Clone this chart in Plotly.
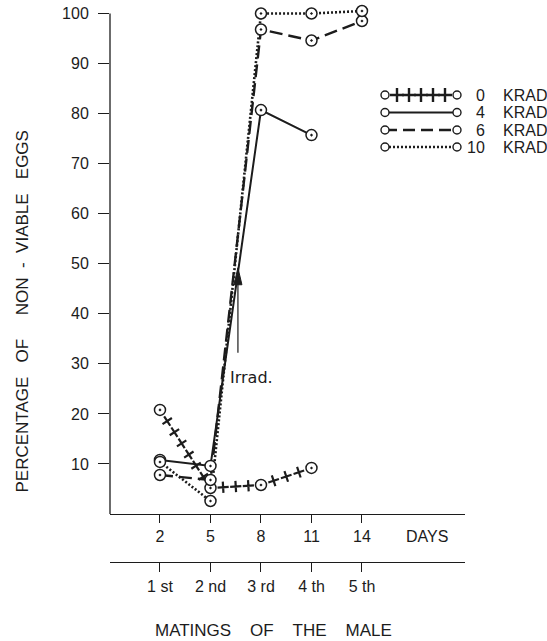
import math
import plotly.graph_objects as go

# ---- data -------------------------------------------------------------
days = [2, 5, 8, 11, 14]
mating_labels = ["1\u00a0st", "2\u00a0nd", "3\u00a0rd", "4\u00a0th", "5\u00a0th"]
y_ticks = [10, 20, 30, 40, 50, 60, 70, 80, 90, 100]

# percentage of non-viable eggs for each dose (None = no mating recorded)
krad0 = [20.8, 5.2, 5.8, 9.2, None]
krad4 = [10.8, 9.6, 80.7, 75.7, None]
krad6 = [7.8, 6.8, 96.8, 94.6, 98.5]
krad10 = [10.4, 2.6, 100.0, 100.0, 100.5]

dose_labels = ["0", "4", "6", "10"]

# irradiation marker (day, arrow tail %, arrow tip %)
irrad_day = 6.63
irrad_from = 32.2
irrad_to = 49.2

# ---- geometry -----------------------------------------------------------
W, H = 547, 641
BOX_L, BOX_R = 110, 465
PX_0, PX_100 = 514, 13.5          # pixel rows of 0 % and 100 %
X_RANGE = [-0.97, 20.12]
Y_TOP = 102                       # headroom so marks at 100 % are not clipped
Y_RANGE = [0, Y_TOP]
SY = (PX_0 - PX_100) / 100        # pixels per percent
SX = (BOX_R - BOX_L) / (X_RANGE[1] - X_RANGE[0])
box_top = PX_0 - Y_TOP * SY
x_dom = [BOX_L / W, BOX_R / W]
y_dom = [(H - PX_0) / H, min(1.0, (H - box_top) / H)]
INK = "#1c1c1c"
FONT = "Liberation Sans"


def plus_pattern(xs, ys, spacing=12.5):
    """Positions and angles of the '+' glyphs that make up the 0 krad line."""
    pts = [(x, y) for x, y in zip(xs, ys) if y is not None]
    gx, gy, ga = [], [], []
    for (x0, y0), (x1, y1) in zip(pts[:-1], pts[1:]):
        dx = (x1 - x0) * SX
        dy = -(y1 - y0) * SY
        n = max(1, round(math.hypot(dx, dy) / spacing) - 1)
        ang = math.degrees(math.atan2(dy, dx))
        for k in range(1, n + 1):
            t = k / (n + 1)
            gx.append(x0 + t * (x1 - x0))
            gy.append(y0 + t * (y1 - y0))
            ga.append(ang)
    return gx, gy, ga


fig = go.Figure()

# ---- series lines (drawn first so the circles sit on top) ---------------
fig.add_trace(go.Scatter(x=days, y=krad4, mode="lines",
                         line=dict(color=INK, width=2), hoverinfo="skip"))
fig.add_trace(go.Scatter(x=days, y=krad6, mode="lines",
                         line=dict(color=INK, width=2.4, dash="13px,6px"),
                         hoverinfo="skip"))
fig.add_trace(go.Scatter(x=days, y=krad10, mode="lines",
                         line=dict(color=INK, width=2.6, dash="2px,2px"),
                         hoverinfo="skip"))
px_, py_, pa_ = plus_pattern(days, krad0)
fig.add_trace(go.Scatter(x=px_, y=py_, mode="markers", hoverinfo="skip",
                         marker=dict(symbol="cross-thin", size=8, angle=pa_,
                                     line=dict(color=INK, width=2.2))))

# ---- data circles -------------------------------------------------------
for series in (krad0, krad4, krad6, krad10):
    fig.add_trace(go.Scatter(
        x=days, y=series, mode="markers", hoverinfo="skip", cliponaxis=False,
        marker=dict(symbol="circle-dot", size=11, color="white",
                    line=dict(color=INK, width=1.5))))

# dummy trace so the mating axis is rendered
fig.add_trace(go.Scatter(x=[days[0]], y=[None], xaxis="x2", yaxis="y",
                         mode="markers", hoverinfo="skip"))

# ---- legend, drawn in figure pixel space --------------------------------
LEG_X0, LEG_X1 = 385, 457
leg_rows = [95, 112.5, 130, 147]
leg_styles = [None, dict(width=2), dict(width=2.4, dash="12px,6px"),
              dict(width=2.6, dash="2px,2px")]
for row, style in zip(leg_rows, leg_styles):
    if style is not None:
        fig.add_trace(go.Scatter(x=[LEG_X0, LEG_X1], y=[row, row], mode="lines",
                                 xaxis="x3", yaxis="y3", hoverinfo="skip",
                                 line=dict(color=INK, **style)))
    else:
        n = 5
        xs = [LEG_X0 + (LEG_X1 - LEG_X0) * k / (n + 1) for k in range(1, n + 1)]
        fig.add_trace(go.Scatter(x=xs, y=[row] * n, mode="markers",
                                 xaxis="x3", yaxis="y3", hoverinfo="skip",
                                 marker=dict(symbol="cross-thin", size=10,
                                             line=dict(color=INK, width=2.4))))
    fig.add_trace(go.Scatter(x=[LEG_X0, LEG_X1], y=[row, row], mode="markers",
                             xaxis="x3", yaxis="y3", hoverinfo="skip",
                             marker=dict(symbol="circle", size=8, color="white",
                                         line=dict(color=INK, width=1.4))))

annotations = []
for row, lab in zip(leg_rows, dose_labels):
    annotations.append(dict(x=487, y=row, xref="x3", yref="y3", text=lab,
                            showarrow=False, xanchor="right", yanchor="middle",
                            font=dict(size=16)))
    annotations.append(dict(x=501, y=row, xref="x3", yref="y3", text="KRAD",
                            showarrow=False, xanchor="left", yanchor="middle",
                            font=dict(size=16)))

# ---- titles and labels --------------------------------------------------
sp = "\u00a0"
y_title = ("PERCENTAGE" + sp * 3 + "OF" + sp * 5 + "NON" + sp * 2 + "-" + sp * 2
           + "VIABLE" + sp * 3 + "EGGS")
annotations.append(dict(x=21.5, y=312, xref="x3", yref="y3", text=y_title,
                        textangle=-90, showarrow=False, font=dict(size=17)))
annotations.append(dict(x=273, y=630, xref="x3", yref="y3",
                        text="MATINGS" + sp * 4 + "OF" + sp * 4 + "THE" + sp * 4 + "MALE",
                        showarrow=False, font=dict(size=17)))
annotations.append(dict(x=427, y=536, xref="x3", yref="y3", text="DAYS",
                        showarrow=False, font=dict(size=16)))
annotations.append(dict(x=irrad_day - 0.6, y=irrad_from - 5, xref="x", yref="y",
                        text="Irrad.", showarrow=False, xanchor="left",
                        yanchor="middle",
                        font=dict(size=16, family="DejaVu Sans")))

shapes = [
    # y axis line, ending at the 100 % tick
    dict(type="line", xref="x domain", yref="y", x0=0, x1=0, y0=0, y1=100,
         line=dict(color=INK, width=1.3)),
    # irradiation arrow
    dict(type="line", xref="x", yref="y", x0=irrad_day, x1=irrad_day,
         y0=irrad_from, y1=irrad_to - 2, line=dict(color=INK, width=1.2)),
    dict(type="path", xref="x", yref="y", xsizemode="pixel", ysizemode="pixel",
         xanchor=irrad_day, yanchor=irrad_to,
         path="M0,0 L-4,-17 L4,-17 Z", fillcolor=INK,
         line=dict(color=INK, width=1)),
]

axis_common = dict(showgrid=False, zeroline=False, linecolor=INK,
                   linewidth=1.3, ticks="outside", tickcolor=INK,
                   tickwidth=1.3, fixedrange=True)

fig.update_layout(
    width=W, height=H,
    margin=dict(l=0, r=0, t=0, b=0),
    paper_bgcolor="white", plot_bgcolor="rgba(0,0,0,0)",
    showlegend=False,
    font=dict(family=FONT, size=16, color=INK),
    xaxis=dict(domain=x_dom, range=X_RANGE, anchor="y", tickvals=days,
               ticklen=8, ticklabelstandoff=0, showline=True, **axis_common),
    xaxis2=dict(domain=x_dom, range=X_RANGE, overlaying="x", anchor="free",
                position=(H - 562) / H, side="bottom", tickvals=days,
                ticktext=mating_labels, ticklen=9, ticklabelstandoff=1,
                showline=True, **axis_common),
    yaxis=dict(domain=y_dom, range=Y_RANGE, anchor="x", tickvals=y_ticks,
               ticklen=11, ticklabelstandoff=6, showline=False, **axis_common),
    xaxis3=dict(domain=[0, 1], range=[0, W], anchor="y3", visible=False,
                fixedrange=True),
    yaxis3=dict(domain=[0, 1], range=[H, 0], anchor="x3", visible=False,
                fixedrange=True),
    annotations=annotations,
    shapes=shapes,
)

for a in fig.layout.annotations:
    a.font.color = INK

fig.write_html("out.html")
